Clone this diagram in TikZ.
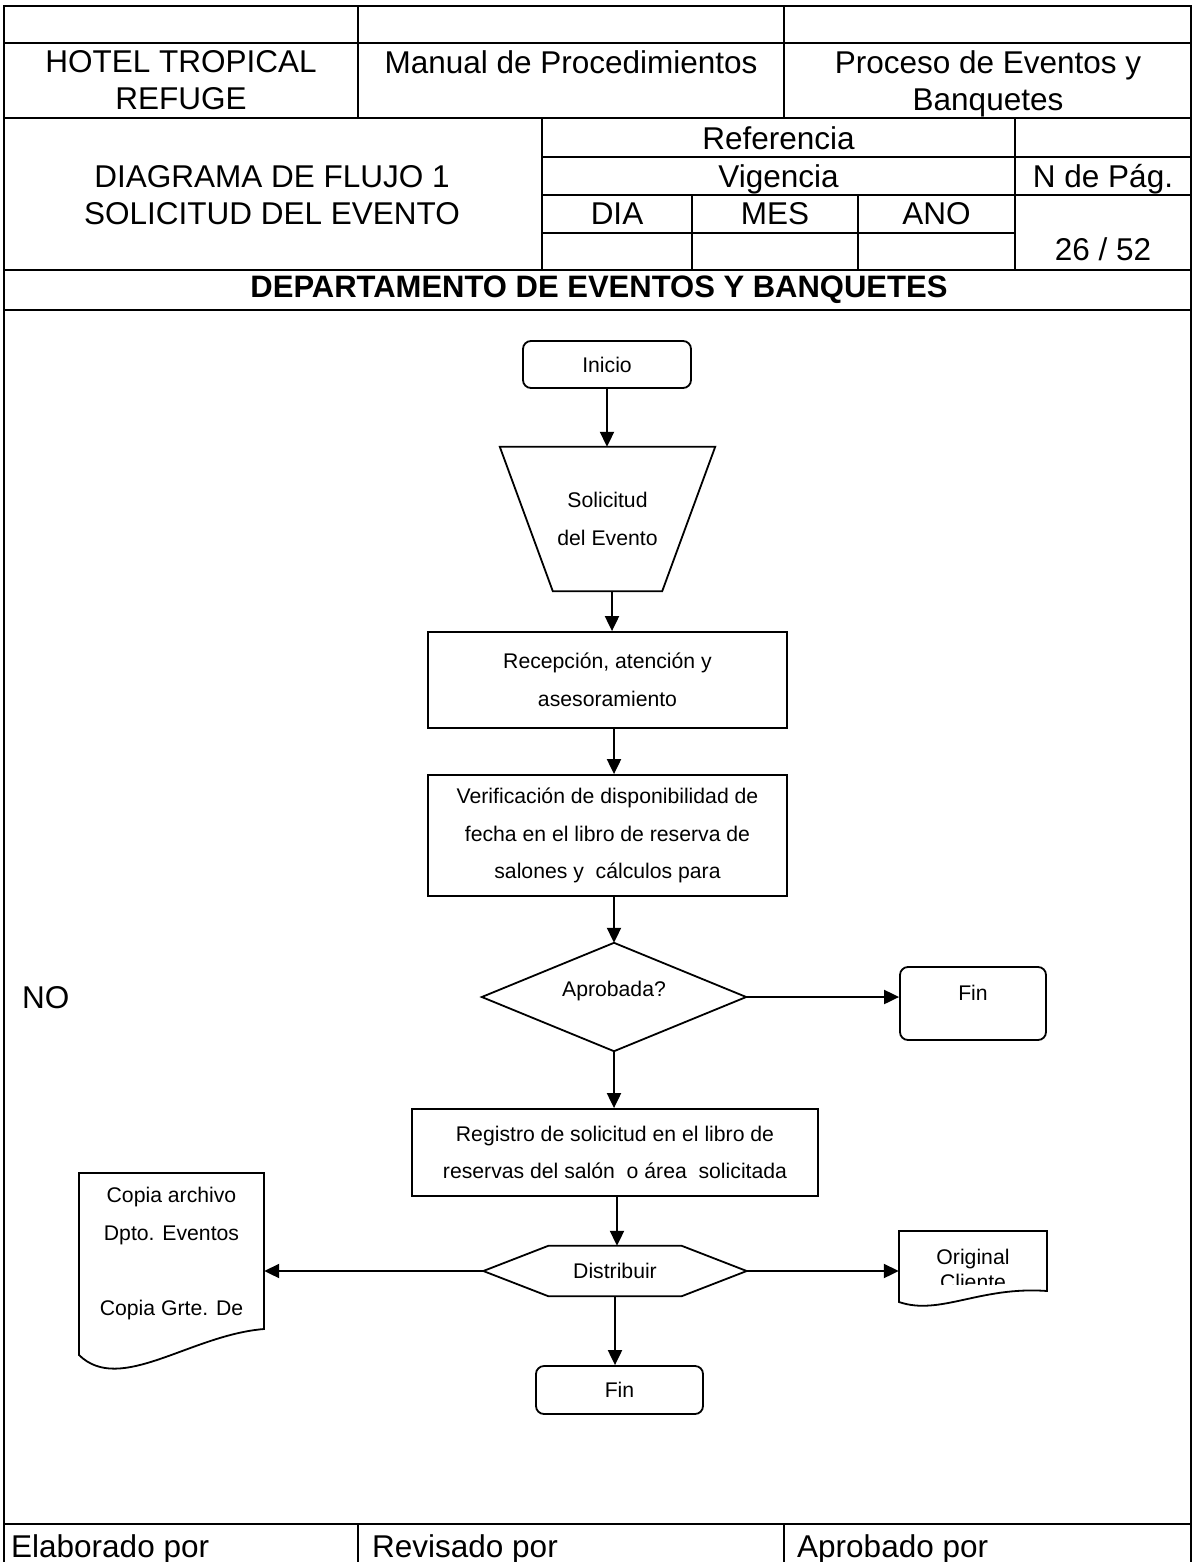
\documentclass[tikz,border=0pt]{standalone}
\usepackage{fontspec}
\setmainfont{Liberation Sans}
\usetikzlibrary{arrows.meta}
\begin{document}
\begin{tikzpicture}[x=1pt,y=-1pt,
  tbl/.style={line width=2pt, line cap=rect},
  hdr/.style={font=\fontsize{31.5}{37}\selectfont, align=center, inner sep=0pt},
  flow/.style={font=\fontsize{21.2}{37.5}\selectfont, align=center, inner sep=0pt},
  shp/.style={line width=1.8pt, line join=miter},
  procbox/.style={flow, draw, line width=1.8pt, minimum width=#1},
  rbox/.style={flow, draw, line width=1.8pt, rounded corners=8pt},
  arr/.style={line width=2pt, -{Triangle[length=15pt,width=14pt]}}
]
\fill[white] (0,0) rectangle (1194,1562);
\useasboundingbox (0,0) rectangle (1194,1562);

% ---- table frame ----
\draw[tbl] (4,1562) -- (4,6) -- (1191,6) -- (1191,1562);
\draw[tbl] (4,43) -- (1191,43);
\draw[tbl] (4,118) -- (1191,118);
\draw[tbl] (4,270) -- (1191,270);
\draw[tbl] (4,310) -- (1191,310);
\draw[tbl] (4,1524) -- (1191,1524);
\draw[tbl] (358,6) -- (358,118);
\draw[tbl] (784,6) -- (784,118);
\draw[tbl] (542,118) -- (542,270);
\draw[tbl] (1015,118) -- (1015,270);
\draw[tbl] (542,157) -- (1191,157);
\draw[tbl] (542,195) -- (1191,195);
\draw[tbl] (542,233) -- (1015,233);
\draw[tbl] (692,195) -- (692,270);
\draw[tbl] (858,195) -- (858,270);
\draw[tbl] (358,1524) -- (358,1562);
\draw[tbl] (784,1524) -- (784,1562);

% ---- header texts ----
\node[hdr] (hotel) at (181,80.5) {HOTEL TROPICAL\\REFUGE};
\node[hdr] (manual) at (571,62) {Manual de Procedimientos};
\node[hdr] (proceso) at (988,83.5) {Proceso de Eventos y\\Banquetes};
\node[hdr] (diag) at (272,195) {DIAGRAMA DE FLUJO 1\\SOLICITUD DEL EVENTO};
\node[hdr] (refer) at (778.5,138) {Referencia};
\node[hdr] (vig) at (778.5,179) {Vigencia};
\node[hdr] (npag) at (1103,179) {N de Pág.};
\node[hdr] (dd) at (617,214) {DIA};
\node[hdr] (mm) at (775,214) {MES};
\node[hdr] (aa) at (936.5,214) {ANO};
\node[hdr] (pag) at (1103,249) {26 / 52};
\node[hdr, font=\fontsize{31}{37}\selectfont\bfseries] (dept) at (599,290) {DEPARTAMENTO DE EVENTOS Y BANQUETES};

% ---- footer ----
\node[hdr, anchor=west] (elab) at (11,1549) {Elaborado por};
\node[hdr, anchor=west] (rev) at (372,1549) {Revisado por};
\node[hdr, anchor=west] (apr) at (797,1549) {Aprobado por};

% ---- flowchart ----
\node[hdr, anchor=west] (no) at (22,998) {NO};

\node[rbox, minimum width=168pt, minimum height=47pt] (inicio) at (607,364.5) {Inicio};

\node[flow, minimum width=215pt, minimum height=144pt] (sol) at (607.5,519) {Solicitud\\del Evento};
\draw[shp] (sol.north west) -- (sol.north east) -- ([xshift=-53pt]sol.south east) -- ([xshift=53pt]sol.south west) -- cycle;

\node[procbox=359pt, minimum height=96pt] (rec) at (607.5,680) {Recepción, atención y\\asesoramiento};
\node[procbox=359pt, minimum height=121pt] (ver) at (607.5,835.5) {Verificación de disponibilidad de\\fecha en el libro de reserva de\\salones y \ cálculos para};

\node[flow, minimum width=264pt, minimum height=108pt, text height=15pt, text depth=16.3pt] (dia) at (614,997) {Aprobada?};
\draw[shp] (dia.north) -- (dia.east) -- (dia.south) -- (dia.west) -- cycle;

\node[rbox, minimum width=146pt, minimum height=73pt, text height=15pt, text depth=21.4pt] (fin1) at (973,1003.5) {Fin};

\node[procbox=406pt, minimum height=87pt] (reg) at (615,1152.5) {Registro de solicitud en el libro de\\reservas del salón \ o área \ solicitada};

\node[flow, minimum width=263pt, minimum height=50pt] (hex) at (615,1271) {Distribuir};
\draw[shp] (hex.west) -- ([xshift=65pt]hex.north west) -- ([xshift=-65pt]hex.north east) -- (hex.east) -- ([xshift=-65pt]hex.south east) -- ([xshift=65pt]hex.south west) -- cycle;

\node[flow, minimum width=185pt] (docl) at (171.5,1253.5) {Copia archivo\\Dpto. Eventos\\\mbox{}\\Copia Grte. De};
\draw[shp] (79,1173) -- (264,1173) -- (264,1329) .. controls (190,1335) and (120,1395) .. (79,1355) -- cycle;

\begin{scope}
\clip (880,1220) rectangle (1060,1284);
\node[flow, font=\fontsize{21.2}{25}\selectfont, minimum width=148pt] (docr) at (973,1269.5) {Original\\Cliente};
\end{scope}
\draw[shp] (899,1231) -- (1047,1231) -- (1047,1291) .. controls (980,1286) and (940,1316) .. (899,1302) -- cycle;

\node[rbox, minimum width=167pt, minimum height=48pt] (fin2) at (619.5,1390) {Fin};

% ---- connectors ----
\draw[arr] (inicio.south) -- (inicio.south |- sol.north);
\draw[arr] ([xshift=4.5pt]sol.south) -- ([xshift=4.5pt]sol.south |- rec.north);
\draw[arr] ([xshift=6.5pt]rec.south) -- ([xshift=6.5pt]rec.south |- ver.north);
\draw[arr] (dia.north |- ver.south) -- (dia.north);
\draw[arr] (dia.east) -- (dia.east -| fin1.west);
\draw[arr] (dia.south) -- (dia.south |- reg.north);
\draw[arr] ([xshift=2pt]reg.south) -- ([xshift=2pt]reg.south |- hex.north);
\draw[arr] (hex.west) -- (hex.west -| docl.east);
\draw[arr] (hex.east) -- (hex.east -| docr.west);
\draw[arr] (hex.south) -- (hex.south |- fin2.north);
\end{tikzpicture}
\end{document}
